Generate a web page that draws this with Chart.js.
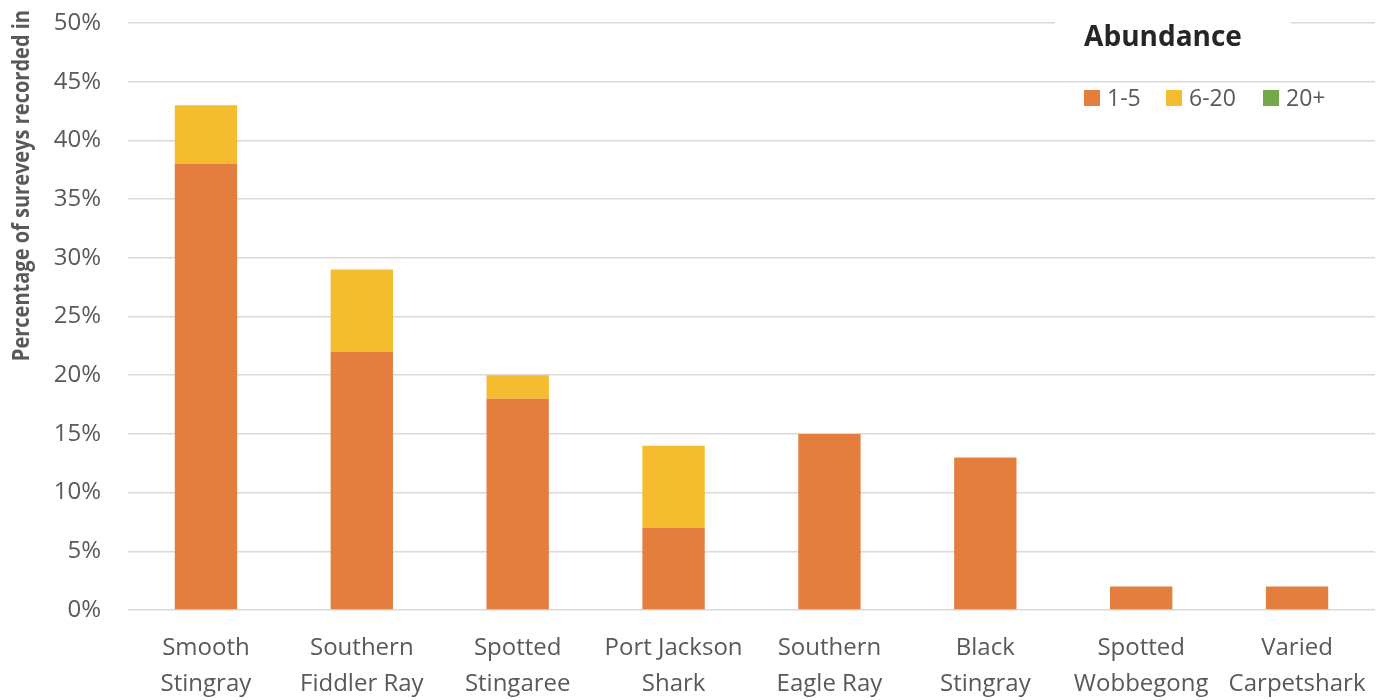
<!DOCTYPE html>
<html>
<head>
<meta charset="utf-8">
<script src="https://cdn.jsdelivr.net/npm/chart.js@4"></script>
<style>
  html, body { margin: 0; padding: 0; background: #fff; }
  #wrap { width: 1387px; height: 700px; position: relative; }
</style>
</head>
<body>
<div id="wrap"><canvas id="myChart"></canvas></div>
<script>
const species = [
  ["Smooth", "Stingray"],
  ["Southern", "Fiddler Ray"],
  ["Spotted", "Stingaree"],
  ["Port Jackson", "Shark"],
  ["Southern", "Eagle Ray"],
  ["Black", "Stingray"],
  ["Spotted", "Wobbegong"],
  ["Varied", "Carpetshark"]
];
const abundance1to5 = [38, 22, 18, 7, 15, 13, 2, 2];
const abundance6to20 = [5, 7, 2, 7, 0, 0, 0, 0];
const abundance20plus = [0, 0, 0, 0, 0, 0, 0, 0];
const seriesNames = ["1-5", "6-20", "20+"];
const seriesColors = ["#E47E3F", "#F4BC2E", "#74A94B"];
const yTitle = "Percentage of sureveys recorded in";
const legendTitle = "Abundance";

const tickColor = "#595959";

// custom legend box in the top right corner, plus the rotated axis title
const extras = {
  id: "extras",
  afterDraw(chart) {
    const ctx = chart.ctx;
    ctx.save();
    // y axis title, squeezed to a narrow look
    ctx.translate(22, 10);
    ctx.rotate(-Math.PI / 2);
    ctx.scale(0.87, 1);
    ctx.fillStyle = "#595959";
    ctx.font = "bold 23px 'Open Sans', sans-serif";
    ctx.textAlign = "right";
    ctx.textBaseline = "middle";
    ctx.fillText(yTitle, 0, 0);
    ctx.restore();

    ctx.save();
    ctx.fillStyle = "#fff";
    ctx.fillRect(1055, 14, 236, 58);
    ctx.fillStyle = "#262626";
    ctx.font = "bold 28px 'Open Sans', sans-serif";
    ctx.textAlign = "center";
    ctx.textBaseline = "middle";
    ctx.fillText(legendTitle, 1163, 38);

    const boxX = [1084, 1166, 1263];
    ctx.font = "23px 'Open Sans', sans-serif";
    ctx.textAlign = "left";
    chart.data.datasets.forEach((ds, i) => {
      ctx.fillStyle = ds.backgroundColor;
      ctx.fillRect(boxX[i], 90, 16, 16);
      ctx.fillStyle = tickColor;
      ctx.fillText(ds.label, boxX[i] + 23, 99);
    });
    ctx.restore();
  }
};

const ctx = document.getElementById("myChart");
new Chart(ctx, {
  type: "bar",
  data: {
    labels: species,
    datasets: [
      { label: seriesNames[0], data: abundance1to5, backgroundColor: seriesColors[0] },
      { label: seriesNames[1], data: abundance6to20, backgroundColor: seriesColors[1] },
      { label: seriesNames[2], data: abundance20plus, backgroundColor: seriesColors[2] }
    ]
  },
  options: {
    responsive: true,
    maintainAspectRatio: false,
    animation: false,
    layout: { padding: { top: 23, right: 12, left: 0, bottom: 0 } },
    datasets: { bar: { barPercentage: 0.4, categoryPercentage: 1.0 } },
    plugins: {
      legend: { display: false },
      tooltip: { enabled: false }
    },
    scales: {
      x: {
        stacked: true,
        grid: { display: false, drawTicks: false },
        border: { display: false },
        ticks: {
          font: { family: "'Open Sans', sans-serif", size: 24, lineHeight: 1.5 },
          color: tickColor,
          padding: 20,
          maxRotation: 0,
          autoSkip: false
        },
        afterFit: (scale) => {
          scale.height = 90;
          scale.paddingLeft = 0;
          scale.paddingRight = 0;
        }
      },
      y: {
        stacked: true,
        min: 0,
        max: 50,
        grid: { color: "#D9D9D9", lineWidth: 1.5, drawTicks: false },
        border: { display: false },
        ticks: {
          stepSize: 5,
          font: { family: "'Open Sans', sans-serif", size: 24 },
          color: tickColor,
          padding: 27,
          callback: (v) => v + "%"
        },
        afterFit: (scale) => {
          scale.width = 128;
          scale.paddingTop = 0;
          scale.paddingBottom = 0;
        }
      }
    }
  },
  plugins: [extras]
});
</script>
</body>
</html>
